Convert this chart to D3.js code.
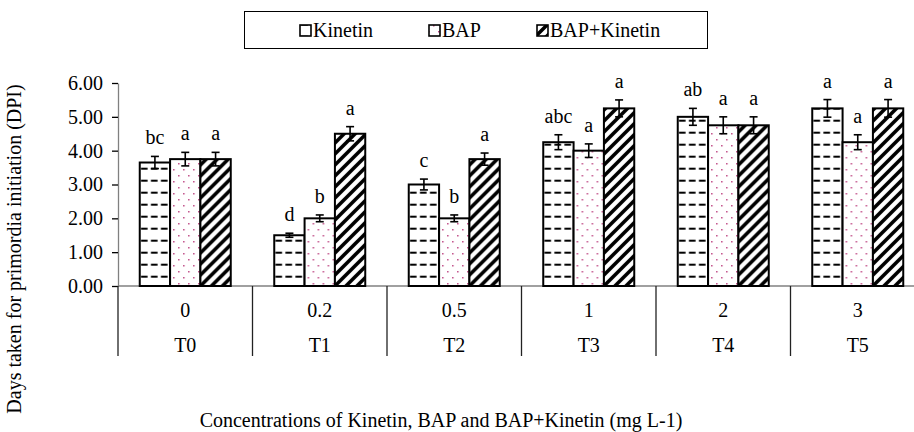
<!DOCTYPE html>
<html>
<head>
<meta charset="utf-8">
<script src="https://cdn.jsdelivr.net/npm/d3@7"></script>
<style>
  body { margin: 0; background: #fff; }
  text { font-family: "Liberation Serif", "Times New Roman", serif; fill: #000; }
</style>
</head>
<body>
<div class="chart"></div>
<script>
var w = 914,
  h = 432,
  concentrations = ['0', '0.2', '0.5', '1', '2', '3'],
  treatments = ['T0', 'T1', 'T2', 'T3', 'T4', 'T5'],
  series = ['Kinetin', 'BAP', 'BAP+Kinetin'],
  kinetin = [3.65, 1.5, 3.0, 4.25, 5.0, 5.25],
  bap = [3.75, 2.0, 2.0, 4.0, 4.75, 4.25],
  bapKinetin = [3.75, 4.5, 3.75, 5.25, 4.75, 5.25],
  kinetinErr = [0.18, 0.06, 0.16, 0.22, 0.25, 0.26],
  bapErr = [0.2, 0.1, 0.1, 0.2, 0.25, 0.22],
  bapKinetinErr = [0.2, 0.21, 0.18, 0.25, 0.25, 0.26],
  kinetinLetters = ['bc', 'd', 'c', 'abc', 'ab', 'a'],
  bapLetters = ['a', 'b', 'b', 'a', 'a', 'a'],
  bapKinetinLetters = ['a', 'a', 'a', 'a', 'a', 'a'],
  yTicks = [0, 1, 2, 3, 4, 5, 6];

var values = [kinetin, bap, bapKinetin],
  errors = [kinetinErr, bapErr, bapKinetinErr],
  letters = [kinetinLetters, bapLetters, bapKinetinLetters],
  fills = ['url(#dash)', 'url(#dots)', 'url(#stripe)'];

// flatten into one row per bar
var rows = [];
treatments.forEach(function (t, i) {
  series.forEach(function (s, j) {
    rows.push({ t: t, s: s, v: values[j][i], e: errors[j][i], l: letters[j][i], j: j });
  });
});

var plotLeft = 118,
  plotRight = 925,
  plotBase = 286,
  plotTop = 83;

var x0 = d3.scaleBand().domain(treatments).range([plotLeft, plotRight]);
var x1 = d3.scaleBand().domain(series).range([0, x0.bandwidth()]).paddingOuter(0.717);
var y = d3.scaleLinear().domain([0, 6]).range([plotBase, plotTop]);

// helper for bar left edge
var barX = function (d) {
  return x0(d.t) + x1(d.s);
}

var svg = d3.select('.chart')
  .append('svg')
  .attr('width', w)
  .attr('height', h);

// fill patterns (origin follows each bar's left edge)
var defs = svg.append('defs');

var dash = defs.append('pattern')
  .attr('id', 'dash')
  .attr('patternUnits', 'userSpaceOnUse')
  .attr('width', 10).attr('height', 12)
  .attr('y', -5.3);
dash.append('rect').attr('width', 10).attr('height', 12).attr('fill', '#fff');
dash.append('rect')
  .attr('x', 1.2).attr('y', 5).attr('width', 6.6).attr('height', 2)
  .attr('fill', '#000');

var dots = defs.append('pattern')
  .attr('id', 'dots')
  .attr('patternUnits', 'userSpaceOnUse')
  .attr('width', 10).attr('height', 12)
  .attr('y', 1);
dots.append('rect').attr('width', 10).attr('height', 12).attr('fill', '#fff');
dots.append('rect').attr('x', 3).attr('y', 0).attr('width', 1.5).attr('height', 1.5).attr('fill', '#c04a86');
dots.append('rect').attr('x', 8).attr('y', 6).attr('width', 1.5).attr('height', 1.5).attr('fill', '#c04a86');

var stripe = defs.append('pattern')
  .attr('id', 'stripe')
  .attr('patternUnits', 'userSpaceOnUse')
  .attr('width', 11).attr('height', 11);
stripe.append('rect').attr('width', 11).attr('height', 11).attr('fill', '#fff');
stripe.append('path')
  .attr('d', 'M-3,3 L3,-3 M-3,14 L14,-3 M8,14 L14,8')
  .attr('stroke', '#000').attr('stroke-width', 3.6);

// legend
var legend = svg.append('g').attr('class', 'legend');
legend.append('rect')
  .attr('x', 244.5).attr('y', 11.5)
  .attr('width', 463).attr('height', 37)
  .attr('fill', '#fff').attr('stroke', '#000').attr('stroke-width', 1);

var legendX = [300, 429, 537];
series.forEach(function (s, j) {
  legend.append('rect')
    .attr('x', legendX[j]).attr('y', 25)
    .attr('width', 11).attr('height', 11)
    .attr('fill', fills[j]).attr('stroke', '#000').attr('stroke-width', 1.6);
  legend.append('text')
    .attr('x', legendX[j] + 13).attr('y', 37)
    .attr('font-size', '20px')
    .text(s);
});

// y axis
var yAxis = d3.axisLeft(y)
  .tickValues(yTicks)
  .tickFormat(d3.format('.2f'))
  .tickSize(6)
  .tickSizeOuter(0);

var gy = svg.append('g')
  .attr('transform', 'translate(' + plotLeft + ',0)')
  .call(yAxis);
gy.select('.domain').attr('stroke', '#808080').attr('stroke-width', 1.3);
gy.selectAll('.tick line').attr('stroke', '#000').attr('stroke-width', 1.3);
gy.selectAll('.tick text')
  .attr('x', -15)
  .attr('font-size', '20px')
  .attr('font-family', '"Liberation Serif", serif');

// baseline
svg.append('line')
  .attr('x1', plotLeft).attr('x2', plotRight)
  .attr('y1', plotBase).attr('y2', plotBase)
  .attr('stroke', '#808080').attr('stroke-width', 1.3);

// category dividers
svg.selectAll('line.divider')
  .data(treatments.concat(['end']))
  .enter()
  .append('line')
  .attr('class', 'divider')
  .attr('x1', function (d, i) { return plotLeft + i * x0.step(); })
  .attr('x2', function (d, i) { return plotLeft + i * x0.step(); })
  .attr('y1', plotBase).attr('y2', 356)
  .attr('stroke', '#222').attr('stroke-width', 1.3);

// category labels, two levels
svg.selectAll('text.conc')
  .data(concentrations)
  .enter()
  .append('text')
  .attr('class', 'conc')
  .attr('x', function (d, i) { return x0(treatments[i]) + x0.bandwidth() / 2; })
  .attr('y', 317)
  .attr('text-anchor', 'middle')
  .attr('font-size', '20px')
  .text(function (d) { return d; });

svg.selectAll('text.treat')
  .data(treatments)
  .enter()
  .append('text')
  .attr('class', 'treat')
  .attr('x', function (d) { return x0(d) + x0.bandwidth() / 2; })
  .attr('y', 352)
  .attr('text-anchor', 'middle')
  .attr('font-size', '20px')
  .text(function (d) { return d; });

// bars, each in a group shifted to its left edge so the pattern starts there
svg.selectAll('g.bar')
  .data(rows)
  .enter()
  .append('g')
  .attr('class', 'bar')
  .attr('transform', function (d) { return 'translate(' + barX(d) + ',0)'; })
  .append('rect')
  .attr('x', 0)
  .attr('y', function (d) { return y(d.v); })
  .attr('width', x1.bandwidth())
  .attr('height', function (d) { return plotBase - y(d.v); })
  .attr('fill', function (d) { return fills[d.j]; })
  .attr('stroke', '#000')
  .attr('stroke-width', 2);

// error bars
var err = svg.selectAll('g.err')
  .data(rows)
  .enter()
  .append('g')
  .attr('class', 'err')
  .attr('stroke', '#000')
  .attr('stroke-width', 1.6);

err.append('line')
  .attr('x1', function (d) { return barX(d) + x1.bandwidth() / 2; })
  .attr('x2', function (d) { return barX(d) + x1.bandwidth() / 2; })
  .attr('y1', function (d) { return y(d.v + d.e); })
  .attr('y2', function (d) { return y(d.v - d.e); });

[1, -1].forEach(function (sign) {
  err.append('line')
    .attr('x1', function (d) { return barX(d) + x1.bandwidth() / 2 - 4; })
    .attr('x2', function (d) { return barX(d) + x1.bandwidth() / 2 + 4; })
    .attr('y1', function (d) { return y(d.v + sign * d.e); })
    .attr('y2', function (d) { return y(d.v + sign * d.e); });
});

// significance letters
svg.selectAll('text.letter')
  .data(rows)
  .enter()
  .append('text')
  .attr('class', 'letter')
  .attr('x', function (d) { return barX(d) + x1.bandwidth() / 2; })
  .attr('y', function (d) { return y(d.v + d.e) - 12; })
  .attr('text-anchor', 'middle')
  .attr('font-size', '20px')
  .text(function (d) { return d.l; });

// axis titles
svg.append('text')
  .attr('transform', 'translate(21,249) rotate(-90)')
  .attr('text-anchor', 'middle')
  .attr('font-size', '20px')
  .text('Days taken for primordia initiation (DPI)');

svg.append('text')
  .attr('x', 441).attr('y', 427)
  .attr('text-anchor', 'middle')
  .attr('font-size', '20px')
  .text('Concentrations of Kinetin, BAP and BAP+Kinetin (mg L-1)');
</script>
</body>
</html>
